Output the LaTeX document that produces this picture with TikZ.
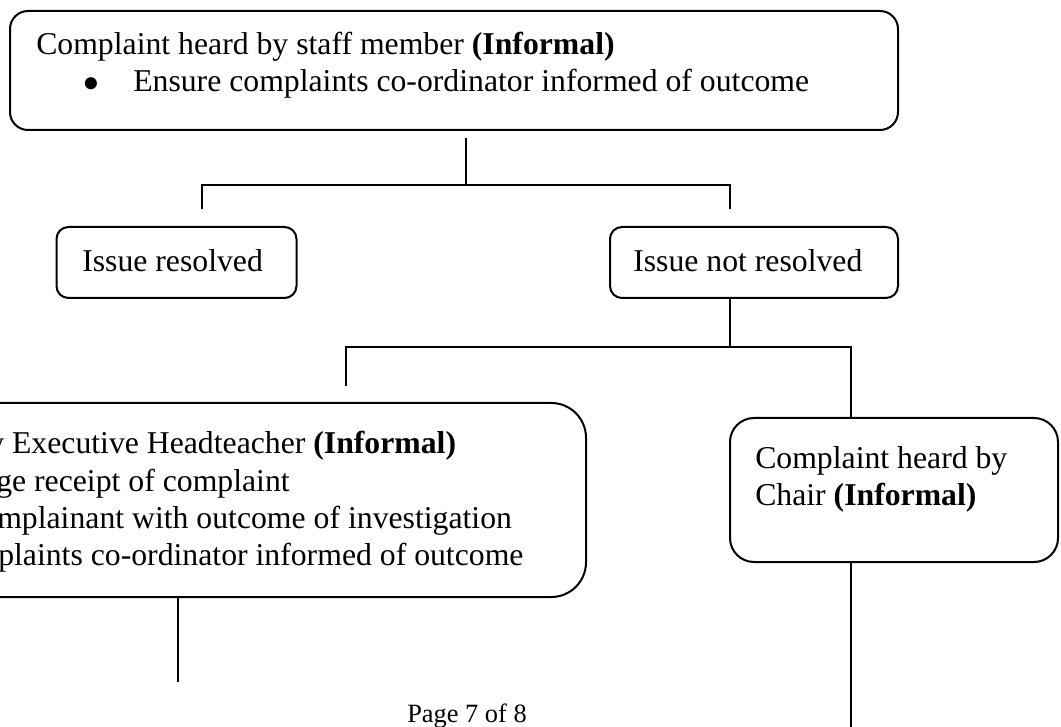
\documentclass[tikz,border=0pt]{standalone}
\usepackage{fontspec}
\setmainfont{Liberation Serif}
\begin{document}
\begin{tikzpicture}[x=0.75pt,y=-0.75pt,
  boxbase/.style={draw=black, line width=1.5pt, inner sep=0pt, fill=none},
  txt/.style={anchor=base west, inner sep=0pt, font=\fontsize{23.8}{28}\selectfont},
  bullettxt/.style={anchor=base, inner sep=0pt, font=\fontsize{38}{38}\selectfont},
  pagetxt/.style={anchor=base west, inner sep=0pt, font=\fontsize{19.8}{24}\selectfont},
  conn/.style={draw=black, line width=1.5pt}]
\useasboundingbox (0,0) rectangle (1061,727);
\clip (0,0) rectangle (1061,727);

% boxes
\node[boxbase, rounded corners=13.5pt, minimum width=666pt, minimum height=89.25pt] (top) at (454,70.5) {};
\node[boxbase, rounded corners=9pt, minimum width=180pt, minimum height=53.25pt] (ir) at (176.5,262.5) {};
\node[boxbase, rounded corners=9pt, minimum width=216pt, minimum height=53.25pt] (inr) at (754,262.5) {};
\node[boxbase, rounded corners=26pt, minimum width=664.5pt, minimum height=145.5pt] (exec) at (143,500) {};
\node[boxbase, rounded corners=18pt, minimum width=246pt, minimum height=108pt] (chair) at (894,490) {};

% texts
\node[txt] (t1) at (36,55) {Complaint heard by staff member \textbf{(Informal)}};
\node[bullettxt] (b1) at (91,101) {\smash{•}};
\node[txt] (t2) at (133,92) {Ensure complaints co-ordinator informed of outcome};
\node[txt] (t3) at (82,272) {Issue resolved};
\node[txt] (t4) at (633,272) {Issue not resolved};
\node[txt] (e1) at (-12,454) {y Executive Headteacher \textbf{(Informal)}};
\node[txt] (e2) at (-4,491) {ge receipt of complaint};
\node[txt] (e3) at (-3,528) {mplainant with outcome of investigation};
\node[txt] (e4) at (-2,565) {plaints co-ordinator informed of outcome};
\node[txt] (c1) at (755,468) {Complaint heard by};
\node[txt] (c2) at (755,505) {Chair \textbf{(Informal)}};
\node[pagetxt] (pg) at (407,722) {Page 7 of 8};

% junction coordinates
\coordinate (j1) at (466,138);
\coordinate (j2) at (466,185);
\coordinate (bl) at (202,185);
\coordinate (br) at (730,185);
\coordinate (bl2) at (202,209);
\coordinate (br2) at (730,209);
\coordinate (k1) at (730,347);
\coordinate (kl) at (346,347);
\coordinate (kr) at (851,347);
\coordinate (kl2) at (346,386);
\coordinate (ex1) at (178,682);
\coordinate (ch1) at (851,740);

% connectors
\draw[conn] (j1) -- (j2);
\draw[conn] (bl2) -- (bl) -- (br) -- (br2);
\draw[conn] (inr.south -| k1) -- (k1);
\draw[conn] (kl2) -- (kl) -- (kr) -- (chair.north -| kr);
\draw[conn] (exec.south -| ex1) -- (ex1);
\draw[conn] (chair.south -| kr) -- (ch1);
\end{tikzpicture}
\end{document}
